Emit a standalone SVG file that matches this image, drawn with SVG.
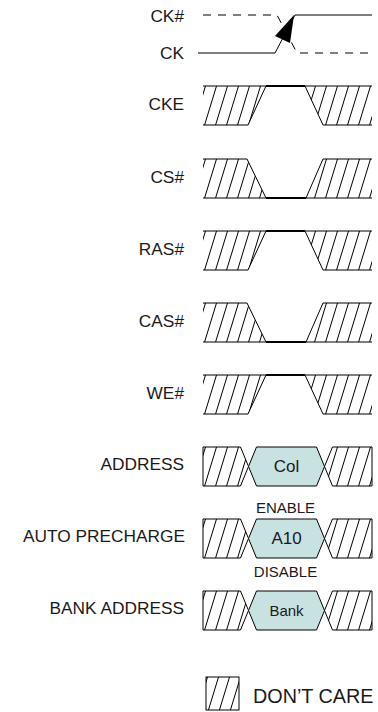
<svg xmlns="http://www.w3.org/2000/svg" width="378" height="712" viewBox="0 0 378 712">
<style>
text{font-family:"Liberation Sans",Arial,sans-serif;fill:#1a1a1a}
.lbl{font-size:17.3px;text-anchor:end}
.in{font-size:17px;text-anchor:middle}
.sm{font-size:15px;text-anchor:middle}
.ln{fill:none;stroke:#000;stroke-width:1}
.thk{fill:none;stroke:#000;stroke-width:2.2}
.dash{fill:none;stroke:#000;stroke-width:1;stroke-dasharray:8 7}
.h{fill:url(#hatch);stroke:none}
.hb{fill:url(#hatch);stroke:#000;stroke-width:1}
.hex{fill:#c8e2e1;stroke:#000;stroke-width:1}
</style>
<defs>
<pattern id="hatch" patternUnits="userSpaceOnUse" x="2" width="11" height="11" patternTransform="skewX(-17)">
<line x1="5.5" y1="-1" x2="5.5" y2="12" stroke="#000" stroke-width="1"/>
</pattern>
</defs>
<rect width="378" height="712" fill="#fff"/>
<g id="ck">
<text class="lbl" x="184" y="21.5">CK#</text>
<text class="lbl" x="184" y="59">CK</text>
<path class="dash" d="M203,15 H277 L297,53 H372"/>
<path class="ln" d="M198,53 H275 L295,15 H372"/>
<polygon points="294,15 275,36 290,43" fill="#000"/>
</g>
<g id="cke" transform="translate(0,86)">
<text class="lbl" x="184" y="24">CKE</text>
<polygon class="h" points="203,0 266,0 248,39 203,39"/>
<polygon class="h" points="305,0 372,0 372,39 323,39"/>
<path class="ln" d="M203,0 H372 M203,39 H248 L266,0 M305,0 L323,39 H372"/>
<path class="thk" d="M266,0 H305"/>
</g>
<g id="cs" transform="translate(0,159)">
<text class="lbl" x="184" y="23.5">CS#</text>
<polygon class="h" points="203,0 247,0 266,39 203,39"/>
<polygon class="h" points="323,0 372,0 372,39 306,39"/>
<path class="ln" d="M203,0 H247 L266,39 M203,39 H372 M306,39 L323,0 H372"/>
<path class="thk" d="M266,39 H306"/>
</g>
<g id="ras" transform="translate(0,231)">
<text class="lbl" x="184" y="24">RAS#</text>
<polygon class="h" points="203,0 266,0 248,39 203,39"/>
<polygon class="h" points="305,0 372,0 372,39 323,39"/>
<path class="ln" d="M203,0 H372 M203,39 H248 L266,0 M305,0 L323,39 H372"/>
<path class="thk" d="M266,0 H305"/>
</g>
<g id="cas" transform="translate(0,303)">
<text class="lbl" x="184" y="24">CAS#</text>
<polygon class="h" points="203,0 247,0 266,39 203,39"/>
<polygon class="h" points="323,0 372,0 372,39 306,39"/>
<path class="ln" d="M203,0 H247 L266,39 M203,39 H372 M306,39 L323,0 H372"/>
<path class="thk" d="M266,39 H306"/>
</g>
<g id="we" transform="translate(0,375)">
<text class="lbl" x="184" y="24">WE#</text>
<polygon class="h" points="203,0 266,0 248,39 203,39"/>
<polygon class="h" points="305,0 372,0 372,39 323,39"/>
<path class="ln" d="M203,0 H372 M203,39 H248 L266,0 M305,0 L323,39 H372"/>
<path class="thk" d="M266,0 H305"/>
</g>
<g id="address" transform="translate(0,447)">
<text class="lbl" x="184" y="23">ADDRESS</text>
<polygon class="hb" points="203,0 240.5,0 248.5,19.5 240.5,39 203,39"/>
<polygon class="hex" points="248.5,19.5 256.5,0 316.5,0 324.5,19.5 316.5,39 256.5,39"/>
<polygon class="hb" points="324.5,19.5 332.5,0 372,0 372,39 332.5,39"/>
<text class="in" x="286.5" y="25">Col</text>
</g>
<g id="autoprecharge" transform="translate(0,519)">
<text class="lbl" x="185" y="23">AUTO PRECHARGE</text>
<text class="sm" x="285.5" y="-6">ENABLE</text>
<polygon class="hb" points="203,0 240.5,0 248.5,19.5 240.5,39 203,39"/>
<polygon class="hex" points="248.5,19.5 256.5,0 316.5,0 324.5,19.5 316.5,39 256.5,39"/>
<polygon class="hb" points="324.5,19.5 332.5,0 372,0 372,39 332.5,39"/>
<text class="in" x="286.5" y="25">A10</text>
<text class="sm" x="285.5" y="57.5">DISABLE</text>
</g>
<g id="bankaddress" transform="translate(0,591)">
<text class="lbl" x="184" y="23">BANK ADDRESS</text>
<polygon class="hb" points="203,0 240.5,0 248.5,19.5 240.5,39 203,39"/>
<polygon class="hex" points="248.5,19.5 256.5,0 316.5,0 324.5,19.5 316.5,39 256.5,39"/>
<polygon class="hb" points="324.5,19.5 332.5,0 372,0 372,39 332.5,39"/>
<text class="in" x="286.5" y="24.5" style="font-size:15px">Bank</text>
</g>
<g id="legend">
<rect class="hb" x="206" y="677" width="33" height="33"/>
<text x="253" y="703" style="font-size:19.8px">DON’T CARE</text>
</g>
</svg>
